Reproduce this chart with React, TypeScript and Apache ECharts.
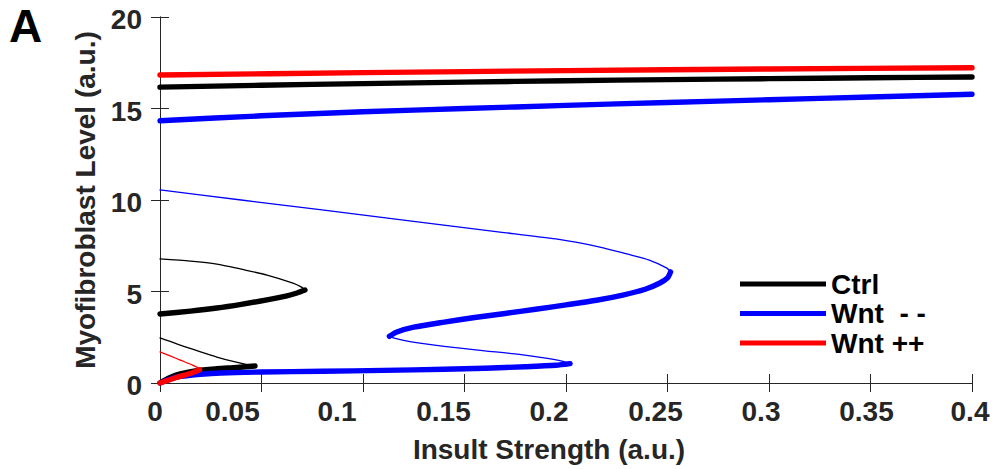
import React, { useEffect, useRef } from "react";
import * as echarts from "echarts";

// ---- tick labels ----
const xTickLabels = ["0", "0.05", "0.1", "0.15", "0.2", "0.25", "0.3", "0.35", "0.4"];
const xLabelShift = [5, 29, 26, 21, 17, 12, 8, 4, 2];
const legendNames = ["Ctrl", "Wnt  - -", "Wnt ++"];

// ---- Ctrl (black) ----
const ctrlLowStable: number[][] = [[0, 0], [0.005, 0.3], [0.01, 0.5], [0.018, 0.68], [0.028, 0.78], [0.038, 0.85], [0.0468, 0.93]];
const ctrlLowUnstable: number[][] = [[0.0468, 0.93], [0.044, 0.98], [0.036, 1.18], [0.028, 1.42], [0.02, 1.7], [0.0113, 2.02], [0.005, 2.27], [0, 2.46]];
const ctrlMidStable: number[][] = [[0, 3.77], [0.015, 3.93], [0.028, 4.1], [0.04, 4.3], [0.0527, 4.54], [0.062, 4.75], [0.0675, 4.92], [0.0714, 5.08]];
const ctrlMidUnstable: number[][] = [[0.0714, 5.08], [0.0695, 5.25], [0.0655, 5.46], [0.0527, 5.9], [0.04, 6.22], [0.028, 6.5], [0.015, 6.66], [0, 6.78]];
const ctrlHigh: number[][] = [[0, 16.17], [0.05, 16.27], [0.1, 16.36], [0.15, 16.44], [0.2, 16.52], [0.25, 16.58], [0.3, 16.63], [0.35, 16.68], [0.4, 16.72]];

// ---- Wnt -- (blue) ----
const wntDownLowStable: number[][] = [[0, 0], [0.005, 0.22], [0.01, 0.36], [0.02, 0.48], [0.03, 0.55], [0.05, 0.6], [0.08, 0.64], [0.11, 0.69], [0.14, 0.75], [0.16, 0.81], [0.18, 0.89], [0.195, 0.97], [0.202, 1.06]];
const wntDownLowUnstable: number[][] = [[0.202, 1.06], [0.198, 1.2], [0.19, 1.36], [0.177, 1.56], [0.16, 1.76], [0.14, 2.0], [0.128, 2.18], [0.12, 2.33], [0.115, 2.46], [0.113, 2.55]];
const wntDownMidStable: number[][] = [[0.113, 2.55], [0.1167, 2.79], [0.125, 3.05], [0.14, 3.33], [0.155, 3.58], [0.17, 3.8], [0.185, 4.03], [0.2, 4.27], [0.215, 4.52], [0.228, 4.8], [0.239, 5.12], [0.246, 5.45], [0.25, 5.75], [0.2515, 6.07]];
const wntDownMidUnstable: number[][] = [[0.2515, 6.07], [0.2497, 6.28], [0.241, 6.72], [0.23, 7.05], [0.2167, 7.43], [0.195, 7.87], [0.1675, 8.25], [0.12, 8.9], [0.0788, 9.47], [0.04, 10.0], [0, 10.55]];
const wntDownHigh: number[][] = [[0, 14.33], [0.05, 14.6], [0.1, 14.82], [0.15, 15.0], [0.2, 15.17], [0.25, 15.33], [0.3, 15.48], [0.35, 15.63], [0.4, 15.78]];

// ---- Wnt ++ (red) ----
const wntUpLowStable: number[][] = [[0, 0], [0.004, 0.15], [0.008, 0.3], [0.012, 0.43], [0.016, 0.56], [0.0195, 0.72]];
const wntUpLowUnstable: number[][] = [[0.0195, 0.72], [0.0188, 0.82], [0.016, 0.98], [0.01, 1.25], [0.005, 1.48], [0, 1.7]];
const wntUpHigh: number[][] = [[0, 16.83], [0.1, 16.96], [0.2, 17.07], [0.3, 17.16], [0.4, 17.23]];

const BLACK = "#000000";
const BLUE = "#0000FF";
const RED = "#FF0000";
const AXIS = "#262626";
const FONT = "Liberation Sans";

function line(name: string, data: number[][], color: string, width: number, z: number) {
  return {
    type: "line",
    name,
    data,
    showSymbol: false,
    symbol: "none",
    smooth: 0.25,
    z,
    itemStyle: { color },
    lineStyle: { color, width, cap: "round", join: "round" },
    emphasis: { disabled: true },
  };
}

export default function App() {
  const ref = useRef<HTMLDivElement>(null);
  useEffect(() => {
    if (!ref.current) return;
    const chart = echarts.init(ref.current, null, { renderer: "svg" });
    const rich: Record<string, any> = {};
    xLabelShift.forEach((s, i) => {
      rich["r" + i] = {
        fontSize: 28,
        fontWeight: "bold",
        fontFamily: FONT,
        color: AXIS,
        padding: [0, 2 * s, 0, 0],
      };
    });
    const yRich = {
      y: { fontSize: 28, fontWeight: "bold", fontFamily: FONT, color: AXIS, padding: [5, 0, 0, 0] },
    };
    const TH = 5.4;
    const tn = 1.3;
    chart.setOption({
      animation: false,
      backgroundColor: "#ffffff",
      title: {
        text: "A",
        left: 4,
        top: -2,
        textStyle: { fontSize: 46, fontWeight: "bold", fontFamily: FONT, color: "#000" },
      },
      grid: { left: 160, right: 22, top: 17, bottom: 86, containLabel: false, outerBoundsMode: "none" },
      legend: {
        orient: "vertical",
        left: 735,
        top: 265,
        itemWidth: 86,
        itemHeight: 5,
        itemGap: 1.5,
        icon: "rect",
        data: [
          { name: legendNames[0], itemStyle: { color: BLACK } },
          { name: legendNames[1], itemStyle: { color: BLUE } },
          { name: legendNames[2], itemStyle: { color: RED } },
        ],
        textStyle: { fontSize: 28, lineHeight: 28, fontWeight: "bold", fontFamily: FONT, color: "#000" },
        selectedMode: false,
      },
      xAxis: [
        {
          type: "value",
          min: 0,
          max: 0.4,
          interval: 0.05,
          name: "Insult Strength (a.u.)",
          nameLocation: "middle",
          nameGap: 52,
          nameMoveOverlap: false,
          nameTextStyle: { fontSize: 28, fontWeight: "bold", fontFamily: FONT, color: AXIS, padding: [0, 34, 0, 0] },
          axisLine: { show: true, lineStyle: { color: AXIS, width: 1 } },
          axisTick: { show: true, inside: true, length: 9, lineStyle: { color: AXIS } },
          splitLine: { show: false },
          axisLabel: {
            margin: 14,
            fontSize: 28,
            fontWeight: "bold",
            fontFamily: FONT,
            color: AXIS,
            hideOverlap: false,
            formatter: (v: number) => {
              const i = Math.round(v / 0.05);
              return "{r" + i + "|" + xTickLabels[i] + "}";
            },
            rich,
          },
        },
        {
          type: "value",
          position: "top",
          min: 0,
          max: 0.4,
          interval: 0.05,
          axisLine: { show: true, lineStyle: { color: AXIS, width: 1 } },
          axisTick: { show: true, inside: true, length: 9, lineStyle: { color: AXIS } },
          axisLabel: { show: false },
          splitLine: { show: false },
        },
      ],
      yAxis: [
        {
          type: "value",
          min: 0,
          max: 20,
          interval: 5,
          name: "Myofibroblast Level (a.u.)",
          nameLocation: "middle",
          nameGap: 61,
          nameMoveOverlap: false,
          nameTextStyle: { fontSize: 28, fontWeight: "bold", fontFamily: FONT, color: AXIS },
          axisLine: { show: true, lineStyle: { color: AXIS, width: 1 } },
          axisTick: { show: true, inside: true, length: 9, lineStyle: { color: AXIS } },
          splitLine: { show: false },
          axisLabel: {
            margin: 18,
            fontSize: 28,
            fontWeight: "bold",
            fontFamily: FONT,
            color: AXIS,
            formatter: (v: number) => "{y|" + v + "}",
            rich: yRich,
          },
        },
        {
          type: "value",
          position: "right",
          min: 0,
          max: 20,
          interval: 5,
          axisLine: { show: true, lineStyle: { color: AXIS, width: 1 } },
          axisTick: { show: true, inside: true, length: 9, lineStyle: { color: AXIS } },
          axisLabel: { show: false },
          splitLine: { show: false },
        },
      ],
      series: [
        line(legendNames[0], ctrlHigh, BLACK, TH, 2),
        line("Ctrl-low", ctrlLowStable, BLACK, TH, 2),
        line("Ctrl-low-u", ctrlLowUnstable, BLACK, tn, 2),
        line("Ctrl-mid", ctrlMidStable, BLACK, TH, 2),
        line("Ctrl-mid-u", ctrlMidUnstable, BLACK, tn, 2),
        line(legendNames[1], wntDownHigh, BLUE, TH, 3),
        line("Wnt-low", wntDownLowStable, BLUE, TH, 3),
        line("Wnt-low-u", wntDownLowUnstable, BLUE, tn, 3),
        line("Wnt-mid", wntDownMidStable, BLUE, TH, 3),
        line("Wnt-mid-u", wntDownMidUnstable, BLUE, tn, 3),
        line(legendNames[2], wntUpHigh, RED, TH, 4),
        line("WntUp-low", wntUpLowStable, RED, TH, 4),
        line("WntUp-low-u", wntUpLowUnstable, RED, tn, 4),
      ],
    });
    return () => chart.dispose();
  }, []);
  return (
    <div
      ref={ref}
      style={{ position: "fixed", left: 0, top: 0, width: 994, height: 469, background: "#fff" }}
    />
  );
}
